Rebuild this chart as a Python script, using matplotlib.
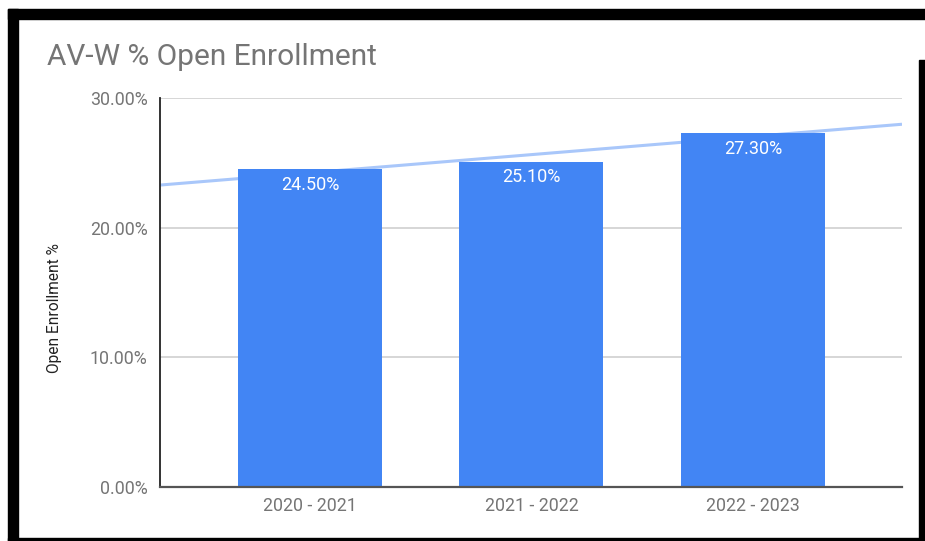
import numpy as np
import matplotlib
matplotlib.use('Agg')
import matplotlib.pyplot as plt
from matplotlib.patches import Rectangle
from matplotlib.ticker import FuncFormatter

# chart data
years = ['2020 - 2021', '2021 - 2022', '2022 - 2023']
open_enrollment = [24.50, 25.10, 27.30]
y_ticks = [0, 10, 20, 30]

plt.rcParams['font.family'] = ['Roboto', 'DejaVu Sans']

fig = plt.figure(figsize=(9.25, 5.41), dpi=100)
ax = fig.add_axes([160 / 925, 1 - 487 / 541, 742 / 925, 389 / 541])

x = np.arange(len(years))
xlim = (-0.677, 2.673)

# linear trendline fitted to the bars
slope, icpt = np.polyfit(x, open_enrollment, 1)
tx = np.array(xlim)
ax.plot(tx, slope * tx + icpt, color='#a9c7fa', lw=2.2, zorder=1, solid_capstyle='butt')

bars = ax.bar(x, open_enrollment, width=0.65, color='#4285f4', zorder=2)
for b, v in zip(bars, open_enrollment):
    ax.annotate('{:.2f}%'.format(v), (b.get_x() + b.get_width() / 2, v),
                xytext=(0, -15), textcoords='offset points',
                ha='center', va='baseline', color='white', fontsize=13, zorder=3)

ax.set_xlim(*xlim)
ax.set_ylim(0, 30)
ax.set_xticks(x)
ax.set_xticklabels(years)
ax.set_yticks(y_ticks)
ax.yaxis.set_major_formatter(FuncFormatter(lambda v, p: '{:.2f}%'.format(v)))
ax.tick_params(axis='both', length=0, labelsize=12.8, labelcolor='#757575')
ax.tick_params(axis='x', pad=7)
ax.tick_params(axis='y', pad=9)

ax.grid(axis='y', color='#cccccc', lw=1.1, zorder=0)
ax.set_axisbelow(True)
for s in ['top', 'right']:
    ax.spines[s].set_visible(False)
ax.spines['left'].set_color('#222222')
ax.spines['left'].set_linewidth(1.3)
ax.spines['bottom'].set_color('#555555')
ax.spines['bottom'].set_linewidth(1.6)

ax.set_ylabel('Open Enrollment %', fontsize=11.2, color='#222222')
ax.yaxis.set_label_coords(-0.132, 0.459)

fig.text(47 / 925, 1 - 65 / 541, 'AV-W % Open Enrollment', fontsize=21.5,
         color='#757575', ha='left', va='baseline')

# black screenshot frame
frame = [(8, 9, 917, 10), (8, 9, 10, 532), (8, 538, 917, 3), (919, 60, 6, 481)]
for fx, fy, fw, fh in frame:
    fig.patches.append(Rectangle((fx / 925, 1 - (fy + fh) / 541), fw / 925, fh / 541,
                                 transform=fig.transFigure, color='black', zorder=10))

plt.savefig('out.png', dpi=100)
